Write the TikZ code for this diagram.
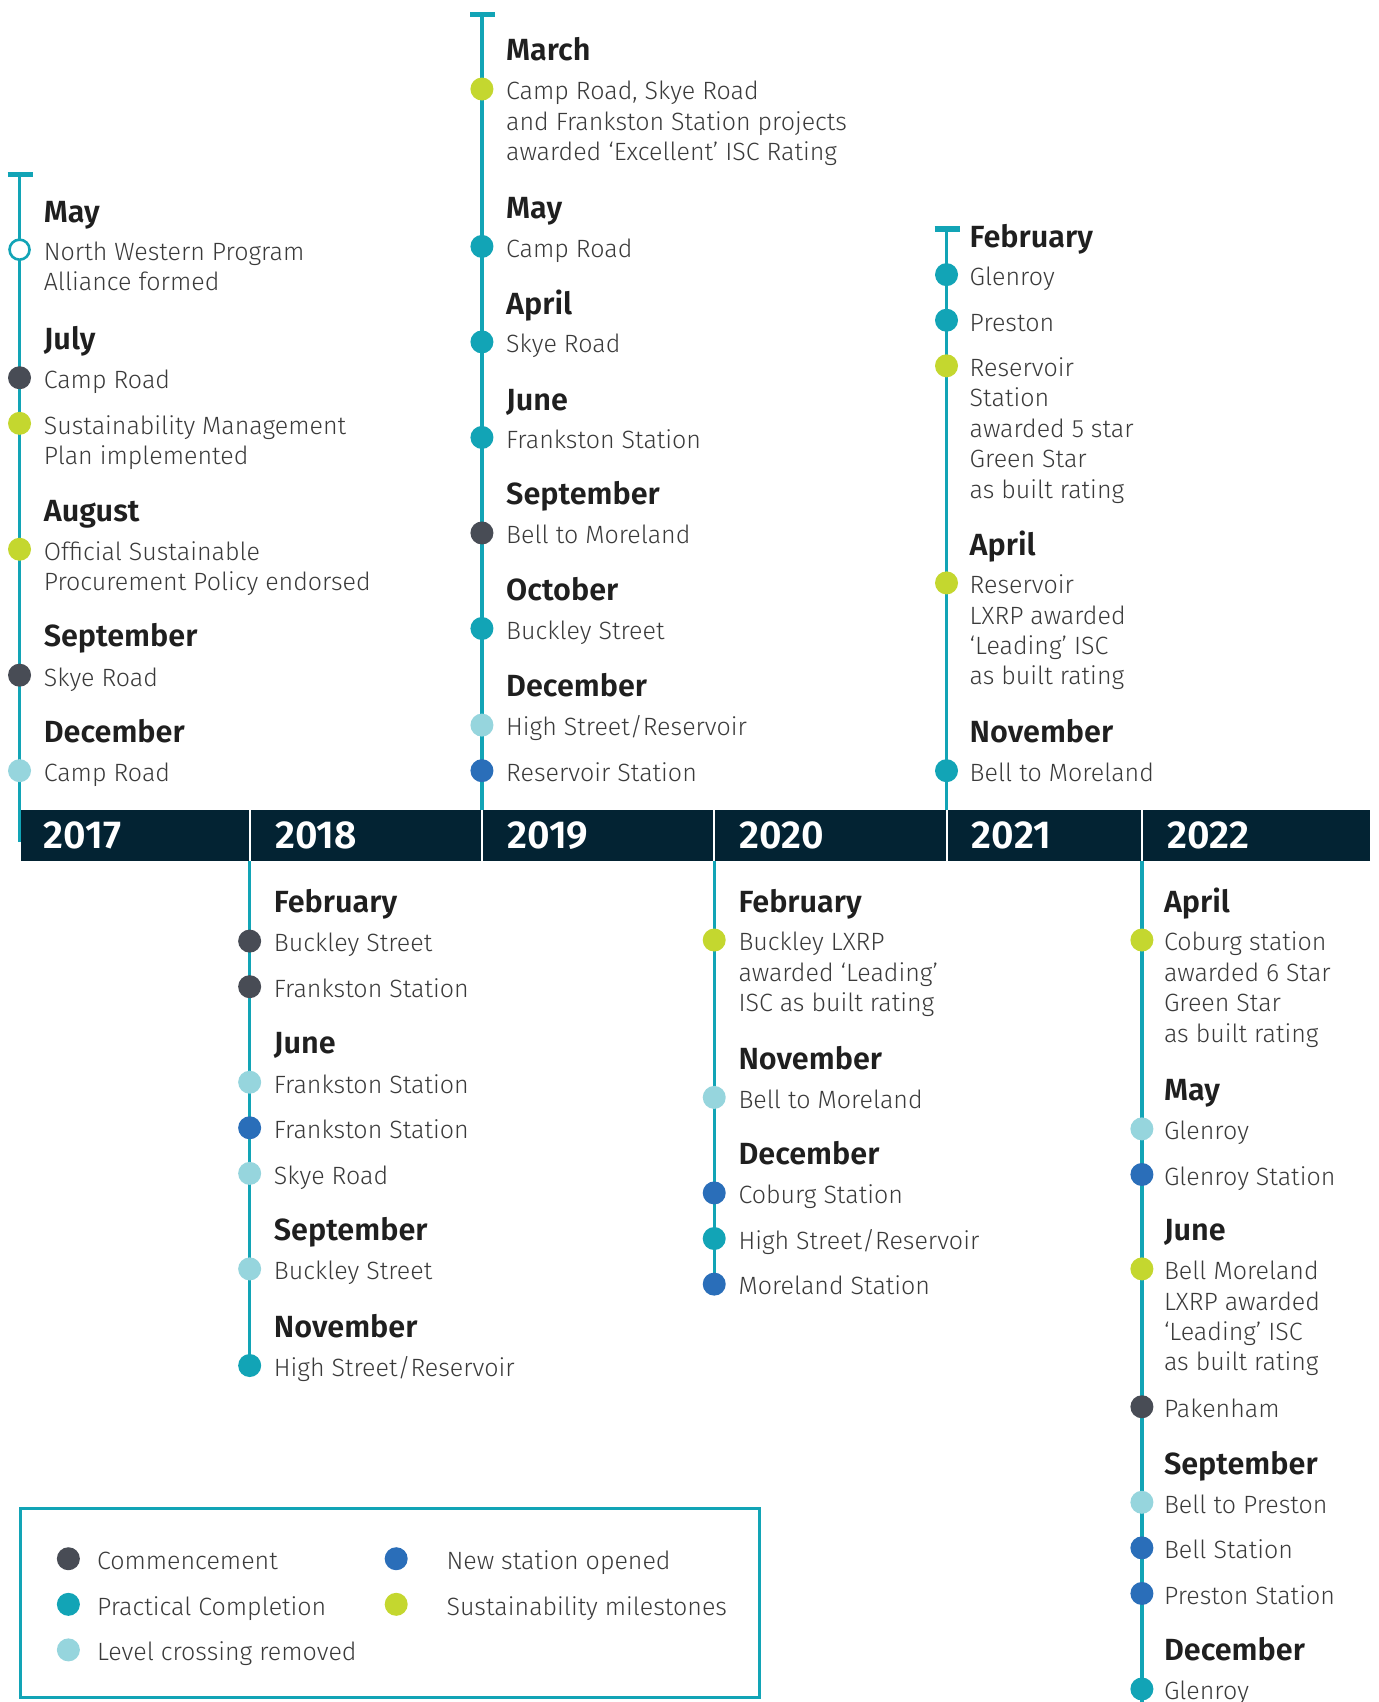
\documentclass[tikz,border=0pt]{standalone}
\usepackage{fontspec}
\setmainfont{Fira Sans Light}[BoldFont={Fira Sans SemiBold}]
\definecolor{turquesa}{HTML}{12A4B6}
\definecolor{grisOscuro}{HTML}{484C55}
\definecolor{celeste}{HTML}{96D5DD}
\definecolor{azul}{HTML}{2A6EB9}
\definecolor{lima}{HTML}{C4D72F}
\definecolor{marino}{HTML}{032333}
\definecolor{texto}{HTML}{3A3A3A}

\begin{document}
\begin{tikzpicture}[x=0.5425pt,y=-0.5425pt,
    mes/.style={anchor=base west,inner sep=0pt,text=black!88,
                font=\fontsize{15.3}{17}\selectfont\bfseries},
    hito/.style={anchor=base west,inner sep=0pt,align=left,text=texto,
                 font=\fontsize{12.5}{15.2}\selectfont},
    anio/.style={anchor=base west,inner sep=0pt,text=white,
                 font=\fontsize{19.5}{22}\selectfont\bfseries},
    punto/.style={circle,inner sep=0pt,minimum size=11.5pt},
    eje/.style={turquesa,line width=1.7pt},
    tapa/.style={turquesa,line width=2.6pt}]
  \useasboundingbox (0,0) rectangle (1270,1568);

  % ejes de cada a~no
  \coordinate (top17) at (18,161);   \coordinate (bot17) at (18,776);
  \coordinate (top19) at (444,13);   \coordinate (bot19) at (444,770);
  \coordinate (top21) at (872,211);  \coordinate (bot21) at (872,770);
  \coordinate (top18) at (230,770);  \coordinate (bot18) at (230,1258);
  \coordinate (top20) at (658,770);  \coordinate (bot20) at (658,1185);
  \coordinate (top22) at (1052,770); \coordinate (bot22) at (1052,1568);
  \draw[eje] (top17) -- (bot17);
  \draw[eje] (top19) -- (bot19);
  \draw[eje] (top21) -- (bot21);
  \draw[eje] (top18) -- (bot18);
  \draw[eje] (top20) -- (bot20);
  \draw[eje] (top22) -- (bot22);
  \draw[tapa] (7,161) -- (30,161);
  \draw[tapa] (433,13) -- (456,13);
  \draw[tapa] (861,211) -- (884,211);

  % barra de a~nos
  \fill[marino] (19,746) rectangle (1262,793);
  \foreach \xd in {230,444,658,872,1052}
    \draw[white,line width=1pt] (\xd,746) -- (\xd,793);
  \node[anio] (y17) at (40,782) {2017};
  \node[anio] (y18) at (253,782) {2018};
  \node[anio] (y19) at (467,782) {2019};
  \node[anio] (y20) at (681,782) {2020};
  \node[anio] (y21) at (895,782) {2021};
  \node[anio] (y22) at (1075,782) {2022};

  % 2017
  \node[mes] (m17a) at (40,205) {May};
  \node[punto,draw=turquesa,fill=white,line width=1.3pt,minimum size=10pt] (p17a) at (18,230) {};
  \node[hito] (h17a) at (40,268) {North Western Program\\Alliance formed};
  \node[mes] (m17b) at (40,322) {July};
  \node[punto,fill=grisOscuro] (p17b) at (18,348) {};
  \node[hito] (h17b) at (40,358) {Camp Road};
  \node[punto,fill=lima] (p17c) at (18,390) {};
  \node[hito] (h17c) at (40,428) {Sustainability Management\\Plan implemented};
  \node[mes] (m17c) at (40,480) {August};
  \node[punto,fill=lima] (p17d) at (18,506) {};
  \node[hito] (h17d) at (40,544) {Official Sustainable\\Procurement Policy endorsed};
  \node[mes] (m17d) at (40,596) {September};
  \node[punto,fill=grisOscuro] (p17e) at (18,622) {};
  \node[hito] (h17e) at (40,632) {Skye Road};
  \node[mes] (m17e) at (40,684) {December};
  \node[punto,fill=celeste] (p17f) at (18,710) {};
  \node[hito] (h17f) at (40,720) {Camp Road};

  % 2019
  \node[mes] (m19a) at (466,56) {March};
  \node[punto,fill=lima] (p19a) at (444,82) {};
  \node[hito] (h19a) at (466,148) {Camp Road, Skye Road\\and Frankston Station projects\\awarded ‘Excellent’ ISC Rating};
  \node[mes] (m19b) at (466,201) {May};
  \node[punto,fill=turquesa] (p19b) at (444,227) {};
  \node[hito] (h19b) at (466,237) {Camp Road};
  \node[mes] (m19c) at (466,290) {April};
  \node[punto,fill=turquesa] (p19c) at (444,315) {};
  \node[hito] (h19c) at (466,325) {Skye Road};
  \node[mes] (m19d) at (466,378) {June};
  \node[punto,fill=turquesa] (p19d) at (444,403) {};
  \node[hito] (h19d) at (466,413) {Frankston Station};
  \node[mes] (m19e) at (466,465) {September};
  \node[punto,fill=grisOscuro] (p19e) at (444,491) {};
  \node[hito] (h19e) at (466,501) {Bell to Moreland};
  \node[mes] (m19f) at (466,553) {October};
  \node[punto,fill=turquesa] (p19f) at (444,579) {};
  \node[hito] (h19f) at (466,589) {Buckley Street};
  \node[mes] (m19g) at (466,642) {December};
  \node[punto,fill=celeste] (p19g) at (444,668) {};
  \node[hito] (h19g) at (466,678) {High Street/Reservoir};
  \node[punto,fill=azul] (p19h) at (444,710) {};
  \node[hito] (h19h) at (466,720) {Reservoir Station};

  % 2021
  \node[mes] (m21a) at (893,228) {February};
  \node[punto,fill=turquesa] (p21a) at (872,253) {};
  \node[hito] (h21a) at (893,263) {Glenroy};
  \node[punto,fill=turquesa] (p21b) at (872,295) {};
  \node[hito] (h21b) at (893,305) {Preston};
  \node[punto,fill=lima] (p21c) at (872,337) {};
  \node[hito] (h21c) at (893,459) {Reservoir\\Station\\awarded 5 star\\Green Star\\as built rating};
  \node[mes] (m21b) at (893,512) {April};
  \node[punto,fill=lima] (p21d) at (872,537) {};
  \node[hito] (h21d) at (893,631) {Reservoir\\LXRP awarded\\‘Leading’ ISC\\as built rating};
  \node[mes] (m21c) at (893,684) {November};
  \node[punto,fill=turquesa] (p21e) at (872,710) {};
  \node[hito] (h21e) at (893,720) {Bell to Moreland};

  % 2018
  \node[mes] (m18a) at (252,841) {February};
  \node[punto,fill=grisOscuro] (p18a) at (230,867) {};
  \node[hito] (h18a) at (252,877) {Buckley Street};
  \node[punto,fill=grisOscuro] (p18b) at (230,909) {};
  \node[hito] (h18b) at (252,919) {Frankston Station};
  \node[mes] (m18b) at (252,971) {June};
  \node[punto,fill=celeste] (p18c) at (230,997) {};
  \node[hito] (h18c) at (252,1007) {Frankston Station};
  \node[punto,fill=azul] (p18d) at (230,1039) {};
  \node[hito] (h18d) at (252,1049) {Frankston Station};
  \node[punto,fill=celeste] (p18e) at (230,1081) {};
  \node[hito] (h18e) at (252,1091) {Skye Road};
  \node[mes] (m18c) at (252,1143) {September};
  \node[punto,fill=celeste] (p18f) at (230,1169) {};
  \node[hito] (h18f) at (252,1179) {Buckley Street};
  \node[mes] (m18d) at (252,1232) {November};
  \node[punto,fill=turquesa] (p18g) at (230,1258) {};
  \node[hito] (h18g) at (252,1268) {High Street/Reservoir};

  % 2020
  \node[mes] (m20a) at (680,841) {February};
  \node[punto,fill=lima] (p20a) at (658,866) {};
  \node[hito] (h20a) at (680,932) {Buckley LXRP\\awarded ‘Leading’\\ISC as built rating};
  \node[mes] (m20b) at (680,985) {November};
  \node[punto,fill=celeste] (p20b) at (658,1011) {};
  \node[hito] (h20b) at (680,1021) {Bell to Moreland};
  \node[mes] (m20c) at (680,1073) {December};
  \node[punto,fill=azul] (p20c) at (658,1099) {};
  \node[hito] (h20c) at (680,1109) {Coburg Station};
  \node[punto,fill=turquesa] (p20d) at (658,1141) {};
  \node[hito] (h20d) at (680,1151) {High Street/Reservoir};
  \node[punto,fill=azul] (p20e) at (658,1183) {};
  \node[hito] (h20e) at (680,1193) {Moreland Station};

  % 2022
  \node[mes] (m22a) at (1072,841) {April};
  \node[punto,fill=lima] (p22a) at (1052,866) {};
  \node[hito] (h22a) at (1072,960) {Coburg station\\awarded 6 Star\\Green Star\\as built rating};
  \node[mes] (m22b) at (1072,1014) {May};
  \node[punto,fill=celeste] (p22b) at (1052,1040) {};
  \node[hito] (h22b) at (1072,1050) {Glenroy};
  \node[punto,fill=azul] (p22c) at (1052,1082) {};
  \node[hito] (h22c) at (1072,1092) {Glenroy Station};
  \node[mes] (m22c) at (1072,1143) {June};
  \node[punto,fill=lima] (p22d) at (1052,1169) {};
  \node[hito] (h22d) at (1072,1263) {Bell Moreland\\LXRP awarded\\‘Leading’ ISC\\as built rating};
  \node[punto,fill=grisOscuro] (p22e) at (1052,1296) {};
  \node[hito] (h22e) at (1072,1306) {Pakenham};
  \node[mes] (m22d) at (1072,1358) {September};
  \node[punto,fill=celeste] (p22f) at (1052,1384) {};
  \node[hito] (h22f) at (1072,1394) {Bell to Preston};
  \node[punto,fill=azul] (p22g) at (1052,1426) {};
  \node[hito] (h22g) at (1072,1436) {Bell Station};
  \node[punto,fill=azul] (p22h) at (1052,1468) {};
  \node[hito] (h22h) at (1072,1478) {Preston Station};
  \node[mes] (m22e) at (1072,1530) {December};
  \node[punto,fill=turquesa] (p22i) at (1052,1556) {};
  \node[hito] (h22i) at (1072,1566) {Glenroy};

  % leyenda
  \draw[turquesa,line width=1.4pt] (19,1390) rectangle (700,1564);
  \node[punto,fill=grisOscuro] (l1) at (63,1436) {};
  \node[hito] (tl1) at (89,1446) {Commencement};
  \node[punto,fill=turquesa] (l2) at (63,1478) {};
  \node[hito] (tl2) at (89,1488) {Practical Completion};
  \node[punto,fill=celeste] (l3) at (63,1520) {};
  \node[hito] (tl3) at (89,1530) {Level crossing removed};
  \node[punto,fill=azul] (l4) at (365,1436) {};
  \node[hito] (tl4) at (411,1446) {New station opened};
  \node[punto,fill=lima] (l5) at (365,1478) {};
  \node[hito] (tl5) at (411,1488) {Sustainability milestones};
\end{tikzpicture}
\end{document}
